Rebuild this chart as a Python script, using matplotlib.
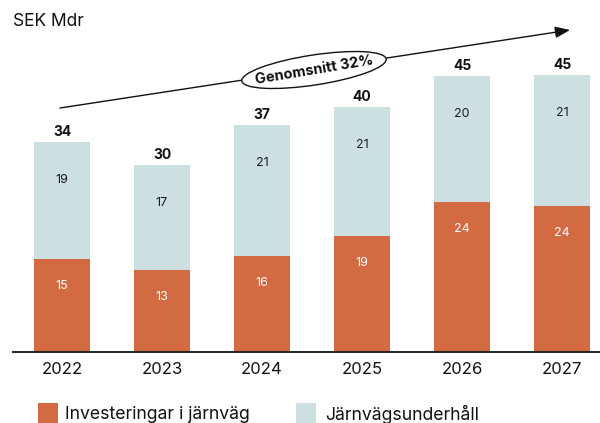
import matplotlib
matplotlib.use("Agg")
import matplotlib.pyplot as plt
from matplotlib.patches import Ellipse, Rectangle
from matplotlib.transforms import IdentityTransform

plt.rcParams['font.family'] = ['Inter', 'DejaVu Sans']

years = ["2022", "2023", "2024", "2025", "2026", "2027"]
investering = [15.1, 13.4, 15.6, 18.9, 24.4, 23.8]
underhall = [19.0, 17.0, 21.3, 21.0, 20.4, 21.2]
series_names = ["Investeringar i järnväg", "Järnvägsunderhåll"]
unit_label = "SEK Mdr"
trend_label = "Genomsnitt 32%"

c_inv = "#D36A41"
c_und = "#CCE0E1"
c_txt = "#111111"

W, H = 600, 423
fig = plt.figure(figsize=(W / 100, H / 100), dpi=100)
ax = fig.add_axes([0, 0, 1, 1])
ax.set_axis_off()

# 100 px per category, 6.15 px per unit, baseline 71 px above the bottom edge
ax.set_xlim(-0.62, -0.62 + W / 100)
ppu = 6.15
ax.set_ylim(-71 / ppu, (H - 71) / ppu)

x = list(range(len(years)))
bw = 0.56
ax.bar(x, investering, width=bw, color=c_inv, zorder=2)
ax.bar(x, underhall, width=bw, bottom=investering, color=c_und, zorder=2)

for i in x:
    inv, und = investering[i], underhall[i]
    tot = inv + und
    ax.text(i, inv - 27 / ppu, f"{inv:.0f}", ha="center", va="center",
            color="white", fontsize=9)
    ax.text(i, tot - 38 / ppu, f"{und:.0f}", ha="center", va="center",
            color="#1a1a1a", fontsize=9)
    ax.text(i, tot + 10 / ppu, f"{tot:.0f}", ha="center", va="center",
            color=c_txt, fontsize=10, fontweight="bold")
    ax.text(i, -17 / ppu, years[i], ha="center", va="center",
            fontsize=12, color=c_txt)

# baseline
ax.plot([-0.62 + 0.12, -0.62 + W / 100], [0, 0], color="#222222",
        lw=1.4, zorder=3, solid_capstyle="butt")

# unit label
fig.text(13 / W, 1 - 22 / H, unit_label, ha="left", va="center",
         fontsize=12.5, color=c_txt)

# trend arrow with labelled ellipse
px = IdentityTransform()
x0, y0 = 60, H - 108
x1, y1 = 570, H - 30
ax.annotate("", xy=(x1, y1), xytext=(x0, y0), xycoords=px, textcoords=px,
            arrowprops=dict(arrowstyle="-|>,head_length=0.9,head_width=0.35",
                            color=c_txt, lw=1.0, shrinkA=0, shrinkB=0),
            zorder=4)
cx, cy = 314, H - 70
ell = Ellipse((cx, cy), 146, 30, angle=8.7, transform=px,
              facecolor="white", edgecolor=c_txt, lw=1.0, zorder=5)
fig.add_artist(ell)
fig.text(cx / W, cy / H, trend_label, ha="center", va="center",
         rotation=9.5, fontsize=10.5, fontweight="bold", color=c_txt,
         zorder=6)

# legend
for (sx, tx, col, name) in [(38, 65, c_inv, series_names[0]),
                            (296, 325, c_und, series_names[1])]:
    fig.add_artist(Rectangle((sx, H - 423), 20, 20, transform=px,
                             facecolor=col, edgecolor="none"))
    fig.text(tx / W, (H - 414) / H, name, ha="left", va="center",
             fontsize=12.7, color=c_txt)

fig.savefig("out.png", dpi=100)
